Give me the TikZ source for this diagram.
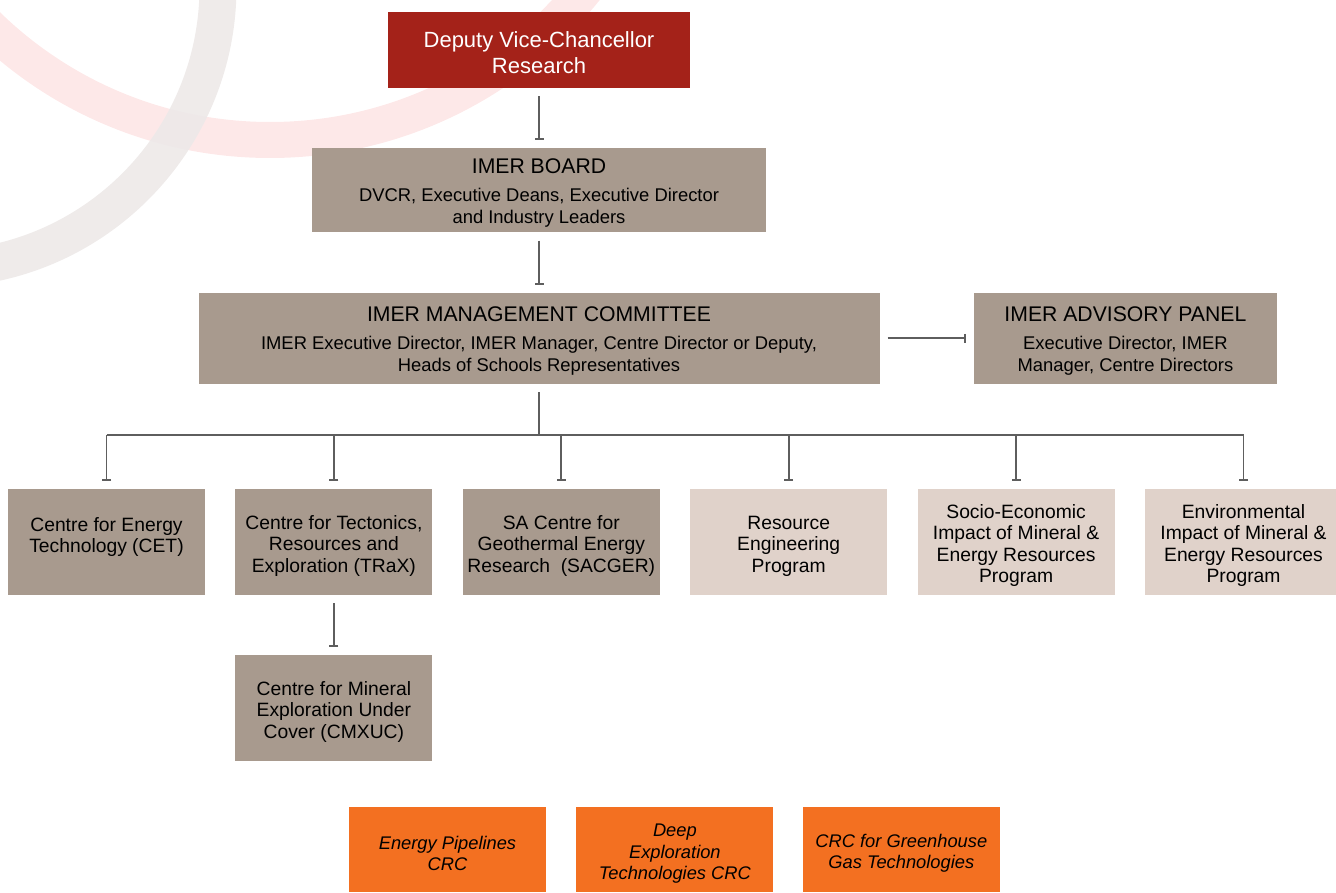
\documentclass[tikz,border=0pt]{standalone}
\usepackage{fontspec}
\setmainfont{Liberation Sans}
\usetikzlibrary{positioning,arrows.meta}

\definecolor{dvcred}{HTML}{A42219}
\definecolor{taupe}{HTML}{A89A8E}
\definecolor{blush}{HTML}{E0D2CA}
\definecolor{crcorange}{HTML}{F37021}
\definecolor{linegray}{HTML}{5E5E5E}
\definecolor{arcpink}{HTML}{FDE8E8}
\definecolor{arcgray}{HTML}{EDE9E8}

\newcommand{\topstrut}{\rule{0pt}{21pt}}
\newcommand{\boxtitle}[1]{{\fontsize{21.2}{24}\selectfont\topstrut #1}\\[6pt]}

\begin{document}
\begin{tikzpicture}[
  x=1pt, y=-1pt,
  font=\fontsize{18.4}{22}\selectfont,
  box/.style={fill=taupe, align=center, inner sep=4pt, text=black},
  unit/.style={box, minimum width=197pt, minimum height=106pt, font=\fontsize{19.3}{21.5}\selectfont},
  prog/.style={unit, fill=blush},
  crc/.style={box, fill=crcorange, minimum width=197pt, minimum height=85pt, font=\fontsize{18.3}{21.5}\selectfont\itshape},
  arr/.style={-{Bar[width=9pt,line width=2pt]}, line width=1.8pt, draw=linegray, shorten <=8pt, shorten >=8pt},
  ln/.style={line width=1.8pt, draw=linegray}
]
\useasboundingbox (0,0) rectangle (1336,893);

% background rings
\begin{scope}
  \clip (0,0) rectangle (1336,893);
  \draw[arcpink, line width=36pt] (270,-265) circle[radius=405pt];
  \draw[arcgray, line width=37pt, opacity=0.9] (-64,-13) circle[radius=282pt];
\end{scope}

\node[box, fill=dvcred, text=white, minimum width=302pt, minimum height=76pt, font=\fontsize{22}{26}\selectfont] (dvc) at (539,50) {\topstrut Deputy Vice-Chancellor\\Research};
\node[box, minimum width=454pt, minimum height=84pt, below=60pt of dvc] (board) {\boxtitle{IMER BOARD}DVCR, Executive Deans, Executive Director\\and Industry Leaders};
\node[box, minimum width=681pt, minimum height=91pt, below=60pt of board] (mgmt) {\boxtitle{IMER MANAGEMENT COMMITTEE}IMER Executive Director, IMER Manager, Centre Director or Deputy,\\Heads of Schools Representatives};
\node[box, minimum width=303pt, minimum height=91pt, right=94pt of mgmt] (panel) {\boxtitle{IMER ADVISORY PANEL}Executive Director, IMER\\Manager, Centre Directors};

% centres and programs
\node[unit] (cet) at (106.5,542) {\topstrut Centre for Energy\\Technology (CET)\\~};
\node[unit, right=30pt of cet] (trax) {\topstrut Centre for Tectonics,\\Resources and\\Exploration (TRaX)};
\node[unit, right=30pt of trax] (sacger) {\topstrut SA Centre for\\Geothermal Energy\\Research~ (SACGER)};
\node[prog, right=30pt of sacger] (rep) {\topstrut Resource\\Engineering\\Program};
\node[prog, right=30pt of rep] (seimp) {\topstrut Socio-Economic\\Impact of Mineral \&\\Energy Resources\\Program};
\node[prog, right=30pt of seimp] (eimp) {\topstrut Environmental\\Impact of Mineral \&\\Energy Resources\\Program};
\node[unit, below=60pt of trax] (cmxuc) {\topstrut Centre for Mineral\\Exploration Under\\Cover (CMXUC)};

% CRCs
\node[crc] (epcrc) at (447.5,849.5) {\topstrut Energy Pipelines\\CRC};
\node[crc, right=30pt of epcrc] (detcrc) {\topstrut Deep\\Exploration\\Technologies CRC};
\node[crc, right=29pt of detcrc] (ghgcrc) {\topstrut CRC for Greenhouse\\Gas Technologies};

\draw[arr] (dvc) -- (board);
\draw[arr] (board) -- (mgmt);
\draw[arr] (mgmt) -- (panel);
\draw[ln, shorten <=8pt] (mgmt.south) -- ++(0,51) coordinate (hub);
\draw[ln] (cet.north |- hub) -- (eimp.north |- hub);
\foreach \n in {cet,trax,sacger,rep,seimp,eimp}
  \draw[arr, shorten <=0pt] (\n.north |- hub) -- (\n.north);
\draw[arr] (trax) -- (cmxuc);

\end{tikzpicture}
\end{document}
